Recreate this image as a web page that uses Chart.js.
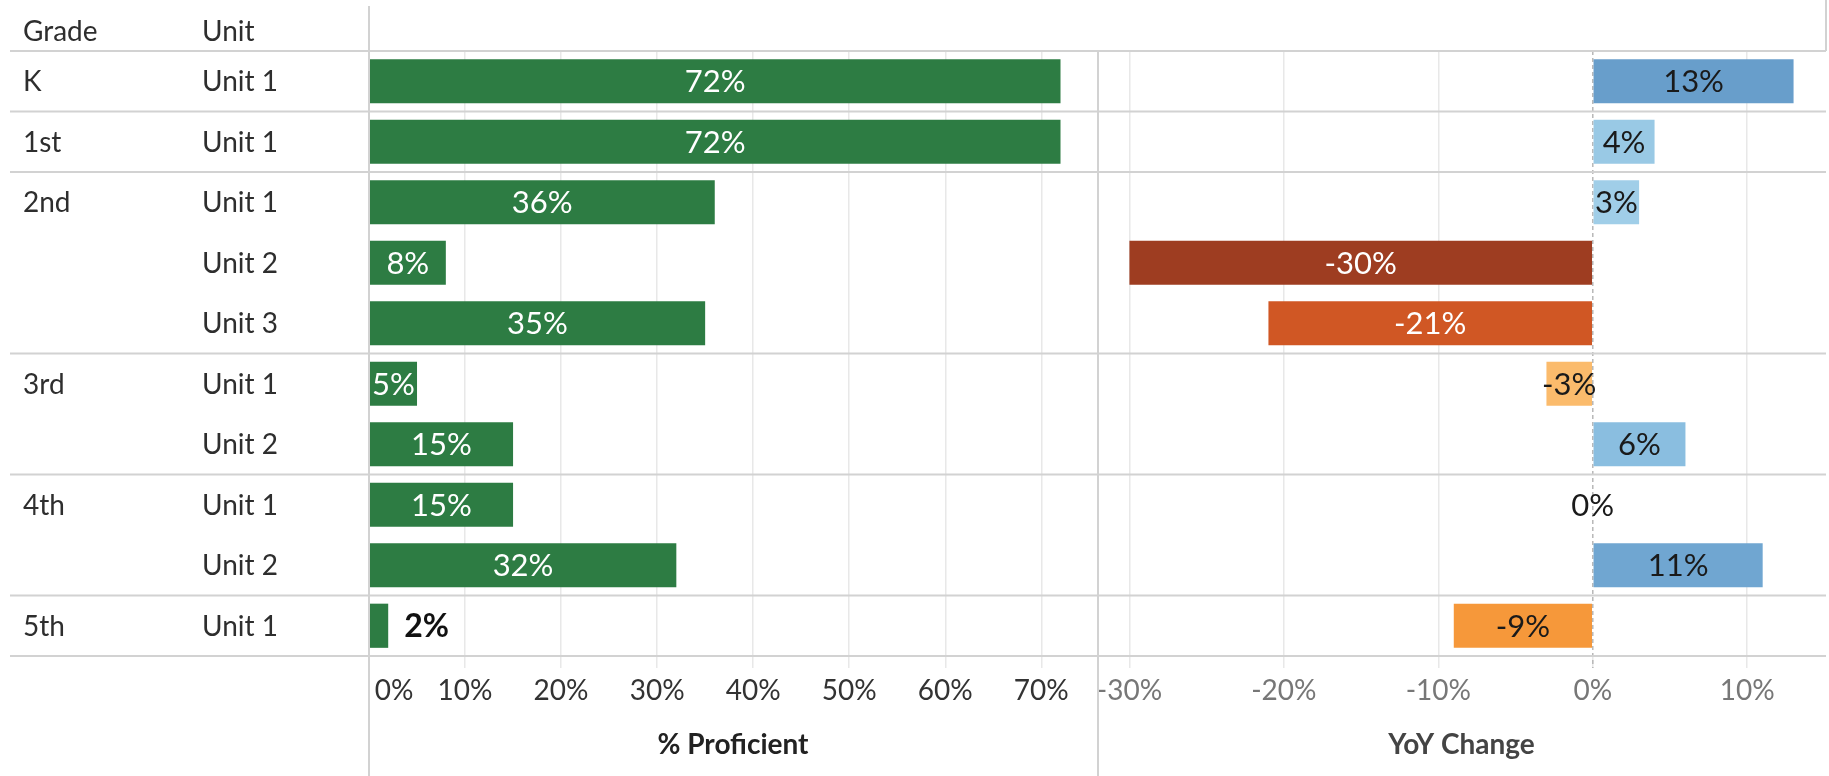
<!DOCTYPE html>
<html>
<head>
<meta charset="utf-8">
<script src="https://cdn.jsdelivr.net/npm/chart.js@4.4.1/dist/chart.umd.min.js"></script>
<style>
  html, body { margin: 0; padding: 0; background: #fff; }
  #wrap { position: relative; width: 1829px; height: 776px; overflow: hidden; }
  #profWrap { position: absolute; left: 0; top: 0; }
  #yoyWrap { position: absolute; left: 1097px; top: 0; }
</style>
</head>
<body>
<div id="wrap">
  <div id="profWrap"><canvas id="profChart" width="1097" height="776"></canvas></div>
  <div id="yoyWrap"><canvas id="yoyChart" width="732" height="776"></canvas></div>
</div>
<script>
// ---------- DATA ----------
const columnHeaders = ["Grade", "Unit"];
const grades = ["K", "1st", "2nd", "2nd", "2nd", "3rd", "3rd", "4th", "4th", "5th"];
const units = ["Unit 1", "Unit 1", "Unit 1", "Unit 2", "Unit 3", "Unit 1", "Unit 2", "Unit 1", "Unit 2", "Unit 1"];
const proficient = [72, 72, 36, 8, 35, 5, 15, 15, 32, 2];
const yoyChange = [13, 4, 3, -30, -21, -3, 6, 0, 11, -9];
const proficientTicks = [0, 10, 20, 30, 40, 50, 60, 70];
const yoyTicks = [-30, -20, -10, 0, 10];
const axisTitles = ["% Proficient", "YoY Change"];

// ---------- STYLE ----------
const FONT = "Lato, 'Open Sans', sans-serif";
const GREEN = "#2d7c43";
const LINE = "#d2d2d2";
const GRID = "#e8e8e8";

Chart.defaults.font.family = FONT;

const negStops = [[0, "#fdd8a5"], [-3, "#fbbb6c"], [-9, "#f6983a"], [-21, "#d05724"], [-30, "#9e3d21"]];
const posStops = [[0, "#b3d9ee"], [3, "#a0cee8"], [6, "#8abee0"], [11, "#70a6d1"], [13, "#689ecb"], [30, "#2a5a8c"]];

function hexToRgb(h) {
  return [1, 3, 5].map(i => parseInt(h.slice(i, i + 2), 16));
}

function yoyColor(v) {
  const stops = v < 0 ? negStops : posStops;
  const a = Math.abs(v);
  for (let i = 1; i < stops.length; i++) {
    const a0 = Math.abs(stops[i - 1][0]), a1 = Math.abs(stops[i][0]);
    if (a <= a1) {
      const t = (a - a0) / (a1 - a0);
      const c0 = hexToRgb(stops[i - 1][1]), c1 = hexToRgb(stops[i][1]);
      const c = c0.map((x, k) => Math.round(x + (c1[k] - x) * t));
      return `rgb(${c[0]},${c[1]},${c[2]})`;
    }
  }
  return stops[stops.length - 1][1];
}

function line(ctx, x1, y1, x2, y2) {
  ctx.beginPath();
  ctx.moveTo(x1, y1);
  ctx.lineTo(x2, y2);
  ctx.stroke();
}

// y positions of the grade separators, taken from the category scale
function gradeBounds(chart) {
  const y = chart.scales.y;
  const out = [chart.chartArea.top];
  grades.forEach((g, i) => {
    if (i > 0 && g !== grades[i - 1]) {
      out.push((y.getPixelForValue(i - 1) + y.getPixelForValue(i)) / 2);
    }
  });
  out.push(chart.chartArea.bottom);
  return out;
}

// ---------- PLUGINS ----------
function makeBarLabels(cfg) {
  return {
    id: "barLabels",
    afterDatasetsDraw(chart) {
      const ctx = chart.ctx;
      const meta = chart.getDatasetMeta(0);
      const values = chart.data.datasets[0].data;
      ctx.save();
      ctx.textBaseline = "middle";
      meta.data.forEach((bar, i) => {
        const v = values[i];
        const text = v + "%";
        const left = Math.min(bar.x, bar.base);
        const right = Math.max(bar.x, bar.base);
        ctx.font = "31px " + FONT;
        const w = ctx.measureText(text).width;
        if (cfg.outside && right - left < w / 2) {
          ctx.font = "bold 32px " + FONT;
          ctx.fillStyle = "#111";
          ctx.textAlign = "left";
          ctx.fillText(text, right + 16, bar.y + 1);
        } else {
          ctx.fillStyle = cfg.color(v);
          ctx.textAlign = "center";
          ctx.fillText(text, (left + right) / 2, bar.y + 1);
        }
      });
      ctx.restore();
    }
  };
}

const gradeTable = {
  id: "gradeTable",
  afterDraw(chart) {
    const { ctx, chartArea } = chart;
    const y = chart.scales.y;
    ctx.save();
    ctx.font = "28px " + FONT;
    ctx.fillStyle = "#2e2e2e";
    ctx.textBaseline = "middle";
    ctx.textAlign = "left";
    ctx.fillText(columnHeaders[0], 23, 32);
    ctx.fillText(columnHeaders[1], 202, 32);
    grades.forEach((g, i) => {
      const yy = y.getPixelForValue(i) + 1;
      if (i === 0 || g !== grades[i - 1]) ctx.fillText(g, 23, yy);
      ctx.fillText(units[i], 202, yy);
    });
    ctx.strokeStyle = LINE;
    ctx.lineWidth = 2;
    gradeBounds(chart).forEach(b => line(ctx, 10, b, chart.width, b));
    line(ctx, chartArea.left, 6, chartArea.left, chart.height);
    ctx.restore();
  }
};

const yoyFrame = {
  id: "yoyFrame",
  beforeDatasetsDraw(chart) {
    const { ctx, chartArea } = chart;
    const x0 = chart.scales.x.getPixelForValue(0);
    ctx.save();
    ctx.strokeStyle = "#b8b8b8";
    ctx.lineWidth = 1.5;
    ctx.setLineDash([4, 3]);
    line(ctx, x0, chartArea.top, x0, chartArea.bottom + 12);
    ctx.restore();
  },
  afterDraw(chart) {
    const { ctx, chartArea } = chart;
    ctx.save();
    ctx.strokeStyle = LINE;
    ctx.lineWidth = 2;
    gradeBounds(chart).forEach(b => line(ctx, 0, b, chartArea.right, b));
    line(ctx, 1, chartArea.top, 1, chart.height);
    line(ctx, chartArea.right, 0, chartArea.right, chartArea.top);
    ctx.restore();
  }
};

// ---------- CHARTS ----------
function xAxis(min, max, tickList, title, tickColor, titleColor, zeroPad) {
  return {
    min: min,
    max: max,
    afterBuildTicks: s => { s.ticks = tickList.map(v => ({ value: v })); },
    afterFit: s => { s.height = 120; s.paddingLeft = 0; s.paddingRight = 0; },
    grid: {
      color: c => (c.tick && c.tick.value === 0 ? "rgba(0,0,0,0)" : GRID),
      lineWidth: 1.5,
      tickLength: 12,
      tickColor: GRID,
      tickWidth: 1.5
    },
    border: { display: false },
    ticks: {
      autoSkip: false,
      maxRotation: 0,
      minRotation: 0,
      padding: 6,
      color: tickColor,
      font: { size: 28 },
      callback: v => (v === 0 ? zeroPad : "") + v + "%"
    },
    title: {
      display: true,
      text: title,
      color: titleColor,
      font: { size: 28, weight: "bold" },
      padding: { top: 0, bottom: 14 }
    }
  };
}

function baseOptions(padding, x) {
  return {
    indexAxis: "y",
    responsive: false,
    devicePixelRatio: 1,
    animation: false,
    layout: { padding: padding },
    plugins: { legend: { display: false }, tooltip: { enabled: false } },
    scales: {
      x: x,
      y: { display: false, grid: { display: false } }
    }
  };
}

new Chart(document.getElementById("profChart"), {
  type: "bar",
  data: {
    labels: units,
    datasets: [{
      data: proficient,
      backgroundColor: GREEN,
      categoryPercentage: 1,
      barPercentage: 0.73
    }]
  },
  options: baseOptions(
    { left: 369, top: 51, right: 0, bottom: 0 },
    xAxis(0, 75.8, proficientTicks, axisTitles[0], "#333", "#222", "       ")
  ),
  plugins: [gradeTable, makeBarLabels({ outside: true, color: () => "#fff" })]
});

new Chart(document.getElementById("yoyChart"), {
  type: "bar",
  data: {
    labels: units,
    datasets: [{
      data: yoyChange,
      backgroundColor: yoyChange.map(yoyColor),
      categoryPercentage: 1,
      barPercentage: 0.73
    }]
  },
  options: baseOptions(
    { left: 0, top: 51, right: 3, bottom: 0 },
    xAxis(-32.1, 15.1, yoyTicks, axisTitles[1], "#777", "#444", "")
  ),
  plugins: [yoyFrame, makeBarLabels({ outside: false, color: v => (Math.abs(v) >= 20 ? "#fff" : "#1a1a1a") })]
});
</script>
</body>
</html>
